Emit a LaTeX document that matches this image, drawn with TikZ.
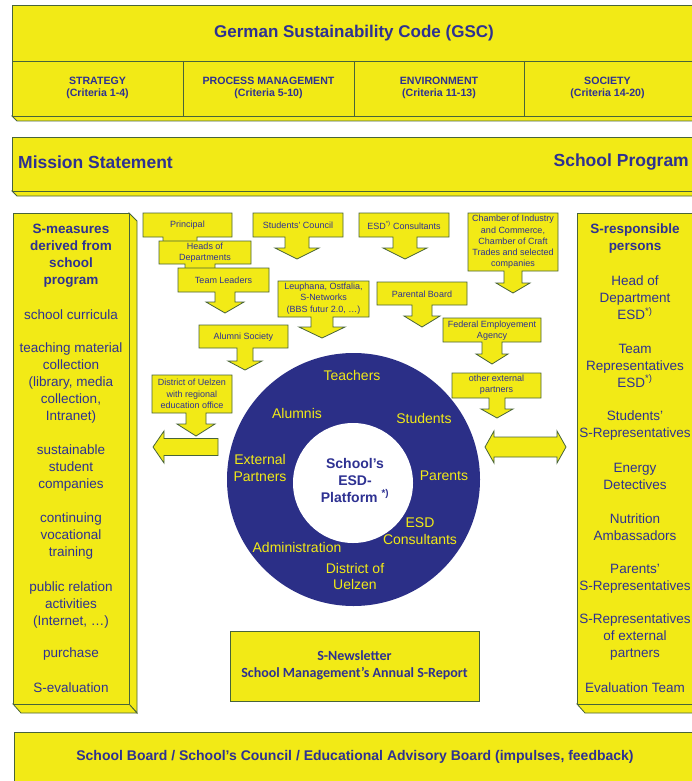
\documentclass[tikz,border=0pt]{standalone}
\usepackage{fontspec}
\setmainfont{Liberation Sans}
\newfontfamily\calib{Carlito}
\definecolor{gyel}{RGB}{242,234,22}
\definecolor{gbrd}{RGB}{72,100,58}
\definecolor{navy}{RGB}{46,49,146}
\definecolor{ringc}{RGB}{43,47,135}
\tikzset{
 ybox/.style={fill=gyel, draw=gbrd, line width=0.8pt, line join=miter},
 sbox/.style={fill=gyel, draw=gbrd, line width=0.8pt, line join=miter},
 txt/.style={text=navy, align=center, inner sep=0pt},
 small/.style={txt, font=\fontsize{9}{11.3}\selectfont},
 crit/.style={txt, font=\fontsize{10.6}{12}\selectfont\bfseries},
 col/.style={txt, font=\fontsize{13.5}{17}\selectfont},
 colh/.style={txt, font=\fontsize{13.5}{17}\selectfont\bfseries},
 ringlbl/.style={text=gyel, align=center, inner sep=0pt, font=\fontsize{14}{16.5}\selectfont},
}
\newcommand\callout[9]{\path[sbox] (#1,#2) -- (#3,#2) -- (#3,#4) -- ({#5+#6},#4) -- ({#5+#6},#8) -- ({#5+#7},#8) -- (#5,#9) -- ({#5-#7},#8) -- ({#5-#6},#8) -- ({#5-#6},#4) -- (#1,#4) -- cycle;}
\begin{document}
\begin{tikzpicture}[x=1pt,y=-1pt]
\useasboundingbox (0,0) rectangle (691,781);
\fill[white] (0,0) rectangle (691,781);
% GSC banner
\path[ybox] (12,116) -- (17,121) -- (700,121) -- (700,116) -- cycle;
\path[ybox] (12,5) rectangle (700,116);
\draw[gbrd, line width=0.8pt] (12,61) -- (700,61);
\foreach \x in {183,354,524} \draw[gbrd, line width=0.8pt] (\x,61) -- (\x,116);
\node[txt, font=\fontsize{17}{20}\selectfont\bfseries] (gsc) at (354,33) {German Sustainability Code (GSC)};
\node[crit] (strat) at (97.5,88) {STRATEGY\\(Criteria 1-4)};
\node[crit] (proc) at (268.5,88) {PROCESS MANAGEMENT\\(Criteria 5-10)};
\node[crit] (env) at (439,88) {ENVIRONMENT\\(Criteria 11-13)};
\node[crit] (soc) at (607.5,88) {SOCIETY\\(Criteria 14-20)};
% Mission banner
\path[ybox] (12,191) -- (17,196) -- (700,196) -- (700,191) -- cycle;
\path[ybox] (12,137) rectangle (700,191);
\node[txt, font=\fontsize{17.5}{20}\selectfont\bfseries, anchor=west] (mission) at (18,162) {Mission Statement};
\node[txt, font=\fontsize{17.5}{20}\selectfont\bfseries, anchor=east] (program) at (689,162) {School Program};
% left column
\path[ybox] (129,213) -- (137,221) -- (137,713) -- (129,704) -- cycle;
\path[ybox] (13,704) -- (21,713) -- (137,713) -- (129,704) -- cycle;
\path[ybox] (13,213) rectangle (129,704);
\node[colh] (smeas) at (71,255.5) {S-measures\\derived from\\school\\program};
\node[col] (l1) at (71,315) {school curricula};
\node[col] (l2) at (71,383.5) {teaching material\\collection\\(library, media\\collection,\\Intranet)};
\node[col] (l3) at (71,468.5) {sustainable\\student\\companies};
\node[col] (l4) at (71,536.5) {continuing\\vocational\\training};
\node[col] (l5) at (71,604.5) {public relation\\activities\\(Internet, …)};
\node[col] (l6) at (71,654) {purchase};
\node[col] (l7) at (71,688) {S-evaluation};
% right column
\path[ybox] (577,704) -- (585,713) -- (700,713) -- (700,704) -- cycle;
\path[ybox] (577,213) rectangle (700,704);
\node[colh] (sresp) at (635,238.5) {S-responsible\\persons};
\node[col] (r1) at (635,297.5) {Head of\\Department\\ESD\textsuperscript{*)}};
\node[col] (r2) at (635,365.5) {Team\\Representatives\\ESD\textsuperscript{*)}};
\node[col] (r3) at (635,425.5) {Students’\\S-Representatives};
\node[col] (r4) at (635,476.5) {Energy\\Detectives};
\node[col] (r5) at (635,527.5) {Nutrition\\Ambassadors};
\node[col] (r6) at (635,578.5) {Parents’\\S-Representatives};
\node[col] (r7) at (635,637.5) {S-Representatives\\of external\\partners};
\node[col] (r8) at (635,688) {Evaluation Team};
% bottom banner
\path[ybox] (14,732) rectangle (700,790);
\node[txt, font=\fontsize{14}{16}\selectfont\bfseries] (board) at (355,757) {School Board / School’s Council / Educational Advisory Board (impulses, feedback)};
% callouts
\callout{143}{213}{232}{237}{180}{17}{17}{250}{255}
\callout{159}{241}{251}{264}{200}{15}{15}{276}{280}
\callout{178}{268}{269}{292}{225}{10}{19}{302}{313}
\callout{253}{213}{343}{237}{297}{12}{22}{248}{259}
\callout{359}{213}{449}{237}{405}{12}{22}{248}{259}
\callout{468}{213}{558}{271}{513}{9}{17}{283}{293}
\callout{278}{281}{369}{317}{322}{11}{23}{327}{338}
\callout{377}{282}{467}{305}{422}{10}{18}{316}{327}
\callout{199}{325}{288}{348}{245}{8}{17}{361}{370}
\callout{443}{318}{541}{342}{492}{10}{16}{354}{364}
\callout{152}{375}{232}{413}{196}{10}{19}{424}{436}
\callout{452}{373}{541}{398}{497}{8}{16}{409}{418}
\node[small] (principal) at (187.5,225) {Principal};
\node[small] (heads) at (205,252.5) {Heads of\\Departments};
\node[small] (team) at (223.5,280) {Team Leaders};
\node[small] (council) at (298,225) {Students’ Council};
\node[small] (esdc) at (404,225) {ESD\textsuperscript{*)} Consultants};
\node[small] (chamber) at (513,242) {Chamber of Industry\\and Commerce,\\Chamber of Craft\\Trades and selected\\companies};
\node[small] (leuphana) at (323.5,298.5) {Leuphana, Ostfalia,\\S-Networks\\(BBS futur 2.0, …)};
\node[small] (parental) at (422,294) {Parental Board};
\node[small] (alumni) at (243.5,337) {Alumni Society};
\node[small] (federal) at (492,330.5) {Federal Employement\\Agency};
\node[small] (district) at (192,394) {District of Uelzen\\with regional\\education office};
\node[small] (otherext) at (496.5,385) {other external\\partners};
% horizontal arrows
\path[sbox] (153,447) -- (164,431) -- (164,438.5) -- (218,438.5) -- (218,455.5) -- (164,455.5) -- (164,463) -- cycle;
\path[sbox] (485,447) -- (494,431) -- (494,437) -- (557,437) -- (557,431) -- (566,447) -- (557,463) -- (557,457) -- (494,457) -- (494,463) -- cycle;
% ring
\fill[ringc] (353.5,479.5) circle[radius=126.5pt];
\fill[white] (353,483) circle[radius=60pt];
\node[ringlbl] (teachers) at (352,375) {Teachers};
\node[ringlbl] (alumnis) at (297,413) {Alumnis};
\node[ringlbl] (students) at (424,418) {Students};
\node[ringlbl] (extp) at (260,468) {External\\Partners};
\node[ringlbl] (parents) at (444,476) {Parents};
\node[ringlbl] (esdcons) at (420,531) {ESD\\Consultants};
\node[ringlbl] (admin) at (297,547) {Administration};
\node[ringlbl] (duelzen) at (355,576.5) {District of\\Uelzen};
\node[txt, font=\fontsize{14}{17}\selectfont\bfseries] (platform) at (355,480) {School’s\\ESD-\\Platform \textsuperscript{*)}};
% newsletter
\path[sbox] (230,631) rectangle (479,701);
\node[txt, font=\calib\fontsize{14}{17}\selectfont\bfseries] (news) at (354.5,665.5) {S-Newsletter\\School Management’s Annual S-Report};
\end{tikzpicture}
\end{document}
